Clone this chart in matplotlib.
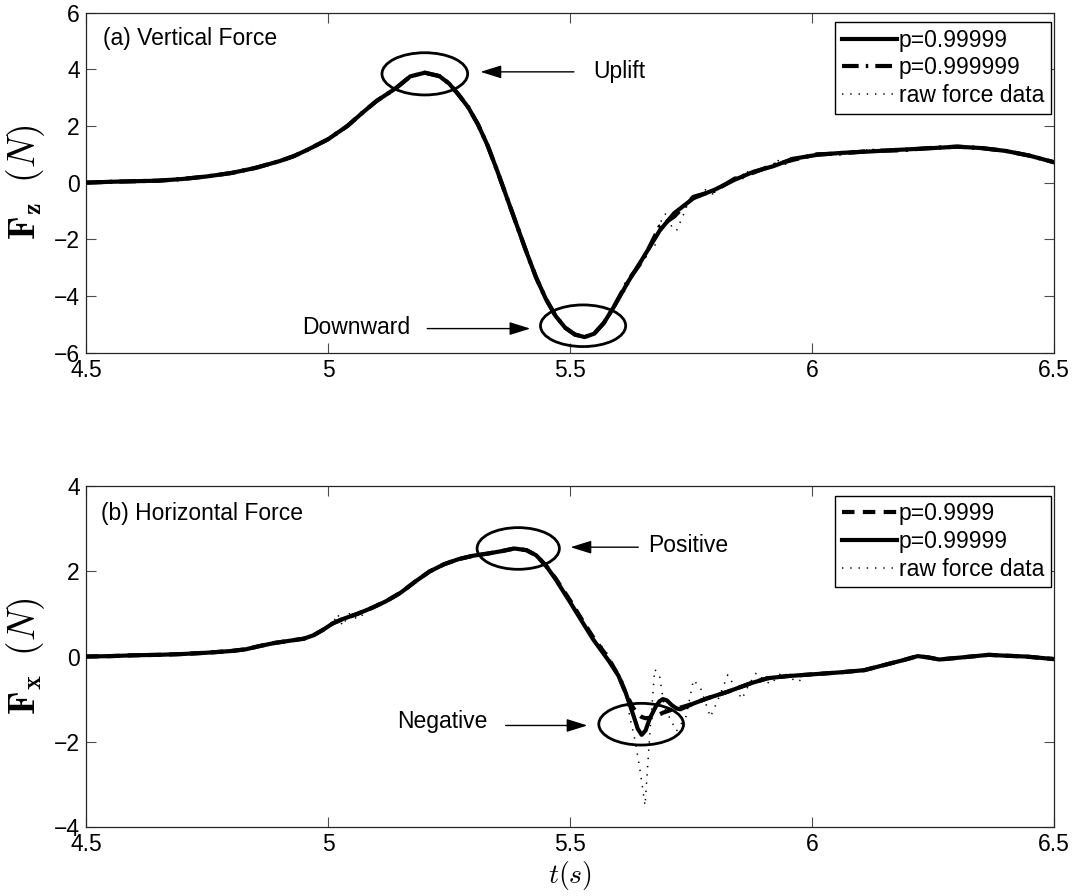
import matplotlib
matplotlib.use('Agg')
import matplotlib.pyplot as plt
from matplotlib.patches import Ellipse

plt.rcParams.update({
    "font.family": "Liberation Sans",
    "mathtext.fontset": "cm",
    "font.size": 16.5,
})

# ---- (a) vertical force ----
t_z = [4.50, 4.55, 4.60, 4.65, 4.70, 4.75, 4.80, 4.85, 4.90, 4.93,
       4.96, 5.00, 5.04, 5.07, 5.10, 5.14, 5.17, 5.20, 5.23, 5.25,
       5.27, 5.29, 5.31, 5.33, 5.35, 5.37, 5.39, 5.41, 5.43, 5.45,
       5.47, 5.49, 5.51, 5.53, 5.55, 5.57, 5.59, 5.62, 5.65, 5.685,
       5.715, 5.755, 5.80, 5.84, 5.88, 5.92, 5.96, 6.01, 6.06, 6.12,
       6.18, 6.25, 6.30, 6.35, 6.40, 6.45, 6.50]
fz_p99999 = [0.00, 0.03, 0.05, 0.07, 0.13, 0.22, 0.34, 0.52, 0.76, 0.94,
             1.18, 1.53, 2.00, 2.45, 2.88, 3.33, 3.75, 3.88, 3.76, 3.50,
             3.10, 2.65, 2.05, 1.30, 0.40, -0.55, -1.50, -2.45, -3.35, -4.10,
             -4.70, -5.12, -5.36, -5.45, -5.33, -4.95, -4.40, -3.50, -2.68, -1.70,
             -1.08, -0.55, -0.24, 0.10, 0.39, 0.58, 0.84, 0.98, 1.05, 1.10,
             1.16, 1.22, 1.27, 1.22, 1.12, 0.95, 0.72]
fz_p999999 = [0.00, 0.03, 0.05, 0.07, 0.13, 0.22, 0.34, 0.52, 0.76, 0.94,
              1.18, 1.53, 2.00, 2.45, 2.88, 3.33, 3.75, 3.88, 3.76, 3.50,
              3.10, 2.65, 2.05, 1.30, 0.40, -0.55, -1.50, -2.45, -3.35, -4.10,
              -4.70, -5.12, -5.36, -5.45, -5.33, -4.95, -4.40, -3.45, -2.75, -1.55,
              -1.20, -0.50, -0.28, 0.14, 0.36, 0.62, 0.80, 1.00, 1.03, 1.12,
              1.14, 1.23, 1.27, 1.22, 1.12, 0.95, 0.72]

t_z_raw = [4.50, 4.55, 4.60, 4.65, 4.70, 4.75, 4.80, 4.85, 4.90, 4.93,
           4.96, 5.00, 5.04, 5.07, 5.10, 5.14, 5.17, 5.20, 5.23, 5.25,
           5.27, 5.29, 5.31, 5.33, 5.35, 5.37, 5.39, 5.41, 5.43, 5.45,
           5.47, 5.49, 5.51, 5.53, 5.55, 5.57, 5.585, 5.60, 5.615, 5.63,
           5.645, 5.66, 5.675, 5.69, 5.70, 5.71, 5.72, 5.735, 5.75, 5.765,
           5.78, 5.795, 5.81, 5.825, 5.84, 5.855, 5.87, 5.885, 5.90, 5.915,
           5.93, 5.945, 5.96, 5.975, 5.99, 6.005, 6.02, 6.035, 6.05, 6.065,
           6.08, 6.095, 6.11, 6.125, 6.14, 6.155, 6.17, 6.185, 6.20, 6.215,
           6.23, 6.25, 6.30, 6.35, 6.40, 6.45, 6.50]
fz_raw = [0.00, 0.03, 0.05, 0.07, 0.13, 0.22, 0.34, 0.52, 0.76, 0.94,
          1.18, 1.53, 2.00, 2.45, 2.88, 3.33, 3.75, 3.88, 3.76, 3.50,
          3.10, 2.65, 2.05, 1.30, 0.40, -0.55, -1.50, -2.45, -3.35, -4.10,
          -4.70, -5.12, -5.36, -5.45, -5.33, -4.95, -4.55, -4.05, -3.80, -3.25,
          -2.95, -2.35, -2.25, -1.25, -1.05, -1.55, -1.70, -1.10, -0.45, -0.60,
          -0.25, -0.40, -0.05, -0.10, 0.22, 0.10, 0.45, 0.30, 0.60, 0.48,
          0.78, 0.65, 0.95, 0.80, 1.05, 0.90, 1.08, 0.95, 1.12, 0.98,
          1.15, 1.02, 1.18, 1.05, 1.20, 1.08, 1.22, 1.12, 1.25, 1.15,
          1.28, 1.20, 1.27, 1.22, 1.12, 0.95, 0.72]

# ---- (b) horizontal force ----
t_x = [4.50, 4.55, 4.60, 4.65, 4.70, 4.75, 4.80, 4.83, 4.86, 4.89,
       4.92, 4.95, 4.97, 4.99, 5.01, 5.03, 5.06, 5.09, 5.12, 5.15,
       5.18, 5.21, 5.24, 5.27, 5.30, 5.33, 5.36, 5.385, 5.41, 5.43,
       5.45, 5.47, 5.50, 5.525, 5.548, 5.58, 5.60, 5.615, 5.63, 5.64,
       5.648, 5.656, 5.665, 5.677, 5.685, 5.692, 5.70, 5.71, 5.72, 5.728,
       5.74, 5.756, 5.784, 5.825, 5.873, 5.908, 5.949, 6.011, 6.06, 6.108,
       6.149, 6.19, 6.218, 6.24, 6.263, 6.31, 6.365, 6.40, 6.442, 6.50]
fx_p99999 = [0.00, 0.01, 0.03, 0.04, 0.06, 0.09, 0.13, 0.17, 0.25, 0.32,
             0.37, 0.42, 0.50, 0.63, 0.78, 0.88, 1.00, 1.14, 1.30, 1.50,
             1.76, 2.00, 2.17, 2.29, 2.37, 2.42, 2.48, 2.54, 2.50, 2.38,
             2.14, 1.82, 1.28, 0.82, 0.40, -0.10, -0.45, -0.85, -1.35, -1.70,
             -1.84, -1.74, -1.45, -1.18, -1.05, -1.00, -1.03, -1.14, -1.22, -1.24,
             -1.18, -1.10, -0.98, -0.83, -0.63, -0.51, -0.46, -0.41, -0.37, -0.32,
             -0.20, -0.08, 0.01, -0.02, -0.07, -0.02, 0.04, 0.02, 0.00, -0.06]
fx_p9999 = [0.00, 0.01, 0.03, 0.04, 0.06, 0.09, 0.13, 0.17, 0.25, 0.32,
            0.37, 0.42, 0.50, 0.63, 0.78, 0.88, 1.00, 1.14, 1.30, 1.50,
            1.76, 2.00, 2.17, 2.29, 2.37, 2.42, 2.48, 2.54, 2.50, 2.38,
            2.14, 1.84, 1.32, 0.86, 0.45, -0.05, -0.45, -0.85, -1.20, -1.35,
            -1.42, -1.45, -1.44, -1.40, -1.36, -1.32, -1.29, -1.25, -1.22, -1.20,
            -1.16, -1.10, -0.98, -0.83, -0.63, -0.51, -0.46, -0.41, -0.37, -0.32,
            -0.20, -0.08, 0.01, -0.02, -0.07, -0.02, 0.04, 0.02, 0.00, -0.06]

t_x_raw = [4.50, 4.55, 4.60, 4.65, 4.70, 4.75, 4.80, 4.83, 4.86, 4.89,
           4.92, 4.95, 4.97, 4.99, 5.01, 5.02, 5.03, 5.045, 5.06, 5.09,
           5.12, 5.15, 5.18, 5.21, 5.24, 5.27, 5.30, 5.33, 5.36, 5.385,
           5.41, 5.43, 5.45, 5.47, 5.50, 5.525, 5.548, 5.565, 5.58, 5.595,
           5.61, 5.625, 5.635, 5.645, 5.655, 5.665, 5.675, 5.685, 5.695, 5.72,
           5.74, 5.755, 5.77, 5.79, 5.81, 5.826, 5.84, 5.855, 5.87, 5.885,
           5.90, 5.915, 5.93, 5.94, 5.955, 5.97, 5.99, 6.011, 6.06, 6.108,
           6.149, 6.19, 6.218, 6.24, 6.263, 6.31, 6.365, 6.40, 6.442, 6.50]
fx_raw = [0.00, 0.01, 0.03, 0.04, 0.06, 0.09, 0.13, 0.17, 0.25, 0.32,
          0.37, 0.42, 0.50, 0.63, 0.78, 1.00, 0.72, 1.02, 0.88, 1.14,
          1.30, 1.50, 1.76, 2.00, 2.17, 2.29, 2.37, 2.42, 2.48, 2.54,
          2.50, 2.38, 2.14, 1.82, 1.28, 0.82, 0.40, 0.25, 0.02, -0.40,
          -0.60, -1.50, -2.00, -2.70, -3.50, -1.80, -0.30, -0.45, -1.20, -1.75,
          -1.40, -0.55, -0.75, -1.42, -0.90, -0.43, -0.70, -1.00, -0.65, -0.38,
          -0.55, -0.65, -0.45, -0.36, -0.50, -0.60, -0.44, -0.41, -0.37, -0.32,
          -0.20, -0.08, 0.01, -0.02, -0.07, -0.02, 0.04, 0.02, 0.00, -0.06]

x_ticks = [4.5, 5, 5.5, 6, 6.5]
x_ticklabels = ['4.5', '5', '5.5', '6', '6.5']

LW = 3.0
raw_style = (0, (0.9, 4.5))
dashdot_style = (0, (4, 1.7, 0.6, 1.7))
dash_style = (0, (3, 2))

fig = plt.figure(figsize=(10.75, 8.96), dpi=100)
ax1 = fig.add_axes([0.080, 0.6064, 0.9005, 0.3795])
ax2 = fig.add_axes([0.080, 0.0773, 0.9005, 0.3799])


def style_axes(ax, ylim, yticks):
    ax.set_xlim(4.5, 6.5)
    ax.set_ylim(*ylim)
    ax.set_xticks(x_ticks)
    ax.set_xticklabels(x_ticklabels)
    ax.set_yticks(yticks)
    ax.tick_params(direction='in', length=7, width=0.8, top=True, right=True,
                   labelsize=16.5, color='0.3')
    ax.tick_params(axis='x', pad=4.5)
    ax.tick_params(axis='y', pad=4.5)
    for s in ax.spines.values():
        s.set_linewidth(0.9)
        s.set_color('0.15')
    ax.yaxis.set_label_coords(-0.040, 0.5)


def circle(ax, xy, w, h):
    ax.add_patch(Ellipse(xy, w, h, fill=False, lw=2.0, ec='k', zorder=6))


def arrow(ax, tail, head):
    ax.annotate('', xy=head, xytext=tail,
                arrowprops=dict(arrowstyle='-|>,head_length=0.8,head_width=0.25',
                                lw=1.0, color='k', shrinkA=0, shrinkB=0,
                                mutation_scale=16))


# panel (a)
r1, = ax1.plot(t_z_raw, fz_raw, color='k', lw=1.1, linestyle=raw_style, zorder=2)
s1, = ax1.plot(t_z, fz_p99999, color='k', lw=LW, zorder=3)
d1, = ax1.plot(t_z, fz_p999999, color='k', lw=LW, linestyle=dashdot_style, zorder=4)
style_axes(ax1, (-6, 6), [-6, -4, -2, 0, 2, 4, 6])
ax1.legend([s1, d1, r1], ['p=0.99999', 'p=0.999999', 'raw force data'],
           loc='upper right', bbox_to_anchor=(0.997, 0.973), borderaxespad=0,
           fancybox=False, edgecolor='k', framealpha=1, fontsize=16.5,
           handlelength=2.4, handletextpad=0.1, labelspacing=0.2, borderpad=0.3)
ax1.text(0.018, 0.925, '(a) Vertical Force', transform=ax1.transAxes,
         ha='left', va='center', fontsize=16.5)
ax1.set_ylabel(r'$\mathbf{F_z}\;\;(N)$', fontsize=27)

circle(ax1, (5.20, 3.84), 0.177, 1.49)
circle(ax1, (5.527, -5.05), 0.176, 1.47)
arrow(ax1, (5.508, 3.91), (5.315, 3.91))
ax1.text(5.548, 3.91, 'Uplift', ha='left', va='center', fontsize=16.5)
arrow(ax1, (5.205, -5.15), (5.418, -5.15))
ax1.text(4.946, -5.12, 'Downward', ha='left', va='center', fontsize=16.5)

# panel (b)
r2, = ax2.plot(t_x_raw, fx_raw, color='k', lw=1.1, linestyle=raw_style, zorder=2)
s2, = ax2.plot(t_x, fx_p99999, color='k', lw=LW, zorder=3)
d2, = ax2.plot(t_x, fx_p9999, color='k', lw=LW, linestyle=dash_style, zorder=4)
style_axes(ax2, (-4, 4), [-4, -2, 0, 2, 4])
ax2.legend([d2, s2, r2], ['p=0.9999', 'p=0.99999', 'raw force data'],
           loc='upper right', bbox_to_anchor=(0.997, 0.973), borderaxespad=0,
           fancybox=False, edgecolor='k', framealpha=1, fontsize=16.5,
           handlelength=2.4, handletextpad=0.1, labelspacing=0.2, borderpad=0.3)
ax2.text(0.016, 0.921, '(b) Horizontal Force', transform=ax2.transAxes,
         ha='left', va='center', fontsize=16.5)
ax2.set_ylabel(r'$\mathbf{F_x}\;\;(N)$', fontsize=27)
ax2.set_xlabel(r'$t(s)$', fontsize=20, labelpad=2)

circle(ax2, (5.393, 2.54), 0.17, 0.98)
circle(ax2, (5.647, -1.59), 0.175, 0.98)
arrow(ax2, (5.641, 2.57), (5.501, 2.57))
ax2.text(5.661, 2.60, 'Positive', ha='left', va='center', fontsize=16.5)
arrow(ax2, (5.367, -1.62), (5.536, -1.62))
ax2.text(5.143, -1.53, 'Negative', ha='left', va='center', fontsize=16.5)

fig.savefig('out.png', dpi=100)
